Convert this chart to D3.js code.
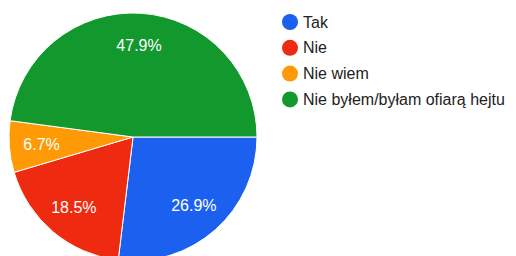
<!DOCTYPE html>
<html>
<head>
<meta charset="utf-8">
<script src="https://cdn.jsdelivr.net/npm/d3@7"></script>
<style>
  body { margin: 0; background: #fff; }
  svg { display: block; }
</style>
</head>
<body>
<script>
// data
var categories = ["Tak", "Nie", "Nie wiem", "Nie byłem/byłam ofiarą hejtu"];
var values = [26.9, 18.5, 6.7, 47.9];
var colors = ["#1c60f0", "#ee2a10", "#fd9a06", "#12982c"];

var width = 516, height = 256;
var cx = 133, cy = 137, r = 124;

var svg = d3.select("body").append("svg")
  .attr("width", width)
  .attr("height", height);

var pie = d3.pie()
  .sort(null)
  .startAngle(Math.PI / 2)
  .endAngle(Math.PI / 2 + 2 * Math.PI);

var arc = d3.arc().innerRadius(0).outerRadius(r);
var labelArc = d3.arc().innerRadius(r * 0.74).outerRadius(r * 0.74);

var g = svg.append("g").attr("transform", "translate(" + cx + "," + cy + ")");

var arcs = pie(values);

// slices
g.selectAll("path")
  .data(arcs)
  .enter()
  .append("path")
    .attr("d", arc)
    .attr("fill", function(d, i) { return colors[i]; })
    .attr("stroke", "#fff")
    .attr("stroke-width", 1);

// percent labels
g.selectAll("text")
  .data(arcs)
  .enter()
  .append("text")
    .attr("transform", function(d) { return "translate(" + labelArc.centroid(d) + ")"; })
    .attr("text-anchor", "middle")
    .attr("dy", "0.35em")
    .attr("fill", "#fff")
    .attr("font-family", "'Liberation Sans', Arial, sans-serif")
    .attr("font-size", 16)
    .text(function(d) { return d.data.toFixed(1) + "%"; });

// legend
var legend = svg.selectAll(".leg")
  .data(categories)
  .enter()
  .append("g")
    .attr("class", "leg")
    .attr("transform", function(d, i) { return "translate(290," + (22 + i * 25.8) + ")"; });

legend.append("circle")
  .attr("r", 8)
  .attr("fill", function(d, i) { return colors[i]; });

legend.append("text")
  .attr("x", 13)
  .attr("dy", "0.35em")
  .attr("fill", "#222")
  .attr("font-family", "'Liberation Sans', Arial, sans-serif")
  .attr("font-size", 16)
  .text(function(d) { return d; });
</script>
</body>
</html>
